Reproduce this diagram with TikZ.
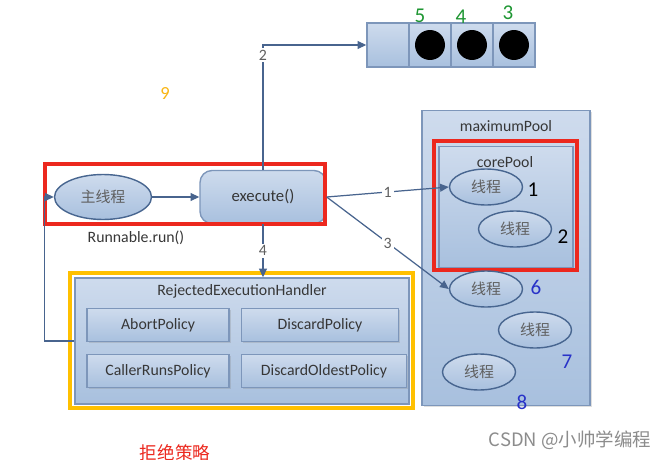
\documentclass[tikz,border=0pt]{standalone}
\usepackage{fontspec}
\setmainfont{Carlito}
\newfontfamily\cjk{Noto Sans CJK SC}
\usetikzlibrary{positioning,arrows.meta,shapes.geometric,shadows}
\definecolor{boxtop}{RGB}{206,219,237}
\definecolor{boxbot}{RGB}{168,192,222}
\definecolor{boxline}{RGB}{125,150,186}
\definecolor{ellline}{RGB}{72,102,144}
\definecolor{txt}{RGB}{55,55,55}
\definecolor{arrowline}{RGB}{72,100,142}
\definecolor{hired}{RGB}{236,40,30}
\definecolor{hiyellow}{RGB}{255,192,0}
\definecolor{numgreen}{RGB}{30,150,50}
\definecolor{numblue}{RGB}{40,50,200}
\definecolor{numorange}{RGB}{250,182,20}
\tikzset{
  blue box/.style={draw=boxline,top color=boxtop,bottom color=boxbot,line width=0.8pt},
  soft shadow/.style={drop shadow={opacity=0.25,shadow xshift=1pt,shadow yshift=-1pt}},
  title/.style={font=\fontsize{9}{10}\selectfont,text=txt},
  policy/.style={blue box,soft shadow,minimum height=0.66cm,font=\fontsize{9}{10}\selectfont,text=txt},
  thread/.style={ellipse,draw=ellline,line width=0.8pt,top color=boxtop,bottom color=boxbot,
    minimum width=1.46cm,minimum height=0.7cm,font=\cjk\fontsize{8.5}{10}\selectfont,text=txt!80},
  flow/.style={draw=arrowline,line width=0.7pt,-{Triangle[length=5pt,width=4.5pt]}},
  flow label/.style={fill=white,inner sep=1pt,font=\fontsize{9}{10}\selectfont,text=txt!80},
  highlight/.style={line width=#1},
  num/.style={font=\fontsize{12}{13}\selectfont,text=#1},
}

\begin{document}
\begin{tikzpicture}[x=0.02cm,y=-0.02cm]
\useasboundingbox[fill=white] (0,0) rectangle (670,460);
% queue
\foreach \i in {0,...,3}
  \node[blue box,minimum width=0.84cm,minimum height=0.88cm] (cell\i) at (388+42*\i,45) {};
\foreach \i in {1,2,3}
  \fill[black] (cell\i) circle (0.3cm);
\node[num=numgreen] (n5) at (420,16) {5};
\node[num=numgreen] (n4) at (461,17) {4};
\node[num=numgreen] (n3) at (508,13) {3};
\node[num=numorange,font=\fontsize{10.5}{12}\selectfont] (n9) at (165,94) {9};
% main thread and execute
\node[thread,minimum width=1.94cm,minimum height=0.9cm] (mainth) at (103,197) {主线程};
\node[blue box,rounded corners=0.24cm,minimum width=2.52cm,minimum height=1.06cm,
  font=\fontsize{9.5}{10}\selectfont,text=txt] (exec) at (263,197) {execute()};
\node[title] (runlbl) at (136,238) {Runnable.run()};
\draw[hired,highlight=1.8pt] (45,164) rectangle (325,224);
% rejected handler
\node[blue box,minimum width=6.68cm,minimum height=2.52cm] (handler) at (242,341) {};
\node[title] (handtitle) at (242,291) {RejectedExecutionHandler};
\node[policy,minimum width=2.84cm] (abort) at (158,325) {AbortPolicy};
\node[policy,minimum width=3.14cm] (discard) at (320,325) {DiscardPolicy};
\node[policy,minimum width=2.84cm] (caller) at (158,371) {CallerRunsPolicy};
\node[policy,minimum width=3.3cm] (oldest) at (324,371) {DiscardOldestPolicy};
\draw[hiyellow,highlight=2.3pt] (70,273) rectangle (413,408);
\node[font=\cjk\fontsize{10}{12}\selectfont,text=hired] (reject) at (175,453) {拒绝策略};
% pools
\node[blue box,soft shadow,minimum width=3.36cm,minimum height=5.9cm] (maxpool) at (506,258) {};
\node[title] (maxtitle) at (506,126) {maximumPool};
\node[blue box,minimum width=2.68cm,minimum height=2.42cm] (corepool) at (506,207) {};
\node[title] (coretitle) at (505,162) {corePool};
\draw[hired,highlight=2.3pt] (434,141) rectangle (577,270);
\node[thread] (th1) at (486,187) {线程};
\node[thread] (th2) at (515,229) {线程};
\node[thread] (th3) at (486,289) {线程};
\node[thread] (th4) at (535,330) {线程};
\node[thread] (th5) at (479,372) {线程};
\node[num=black] (n1) at (533,190) {1};
\node[num=black] (n2) at (563,237) {2};
\node[num=numblue] (n6) at (536,287) {6};
\node[num=numblue] (n7) at (567,362) {7};
\node[num=numblue] (n8) at (522,402) {8};
% connectors
\draw[flow] (mainth) -- (exec);
\draw[flow] (exec.north) |- (cell0.west) node[flow label,pos=0.46] {2};
\draw[flow] (exec.east) -- (th1.west) node[flow label,midway] {1};
\draw[flow] (exec.east) -- (th3.west) node[flow label,pos=0.5] {3};
\draw[flow] (exec.south) -- (exec.south |- handler.north) node[flow label,midway] {4};
\draw[flow] (handler.west) -- ++(-30,0) |- (mainth.west);
\node[font=\cjk\fontsize{10.5}{12}\selectfont,text=black!45] (mark) at (570,440) {CSDN @小帅学编程};
\end{tikzpicture}
\end{document}
